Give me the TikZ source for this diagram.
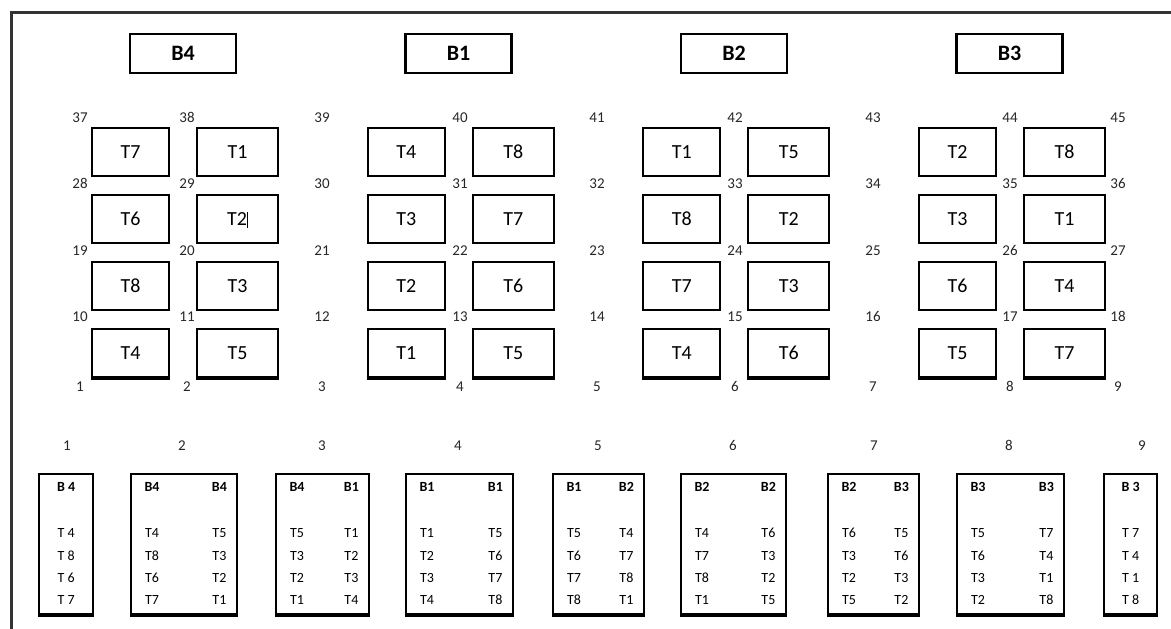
\documentclass[tikz,border=0pt]{standalone}
\usepackage{fontspec}
\setmainfont{Carlito}
\newcommand\tcursor{\rule[-2pt]{0.8pt}{16pt}}
\begin{document}
\begin{tikzpicture}[x=1pt,y=-1pt,
  frame/.style={line width=3pt, draw=black!80},
  hbox/.style={draw, line width=2.2pt, minimum width=106pt, minimum height=39pt, inner sep=0pt, text height=14pt, text depth=0pt, font=\fontsize{22}{22}\selectfont\bfseries},
  tbox/.style={draw, line width=2pt, minimum height=48pt, inner sep=0pt, anchor=north west, text height=13pt, text depth=0pt, font=\fontsize{20}{20}\selectfont},
  num/.style={font=\fontsize{15}{15}\selectfont, text=black!85, inner sep=0pt, text height=10pt, text depth=0pt},
  bbox/.style={draw, line width=2.4pt, minimum height=140pt, anchor=north west, inner sep=0pt},
  btxt/.style={font=\fontsize{14}{14}\selectfont\bfseries, inner sep=0pt, text height=9pt, text depth=0pt},
  ttxt/.style={font=\fontsize{14}{14}\selectfont, inner sep=0pt, text height=9pt, text depth=0pt},
  thick bottom/.style={line width=3.4pt}]
\useasboundingbox (0,0) rectangle (1171,629);
\draw[frame] (11,629) -- (11,12) -- (1171,12);
% header boxes
\foreach \n [count=\k from 0] in {B4,B1,B2,B3}
  \node[hbox] (h\n) at (183+275.5*\k, 53.5) {\n};
% top table boxes
\foreach \k/\r/\c/\t in {
  0/0/0/T7, 0/0/1/T1, 0/1/0/T6, 0/1/1/T2\tcursor, 0/2/0/T8, 0/2/1/T3, 0/3/0/T4, 0/3/1/T5,
  1/0/0/T4, 1/0/1/T8, 1/1/0/T3, 1/1/1/T7, 1/2/0/T2, 1/2/1/T6, 1/3/0/T1, 1/3/1/T5,
  2/0/0/T1, 2/0/1/T5, 2/1/0/T8, 2/1/1/T2, 2/2/0/T7, 2/2/1/T3, 2/3/0/T4, 2/3/1/T6,
  3/0/0/T2, 3/0/1/T8, 3/1/0/T3, 3/1/1/T1, 3/2/0/T6, 3/2/1/T4, 3/3/0/T5, 3/3/1/T7}
{
  \pgfmathsetmacro\bw{77+4*\c}
  \node[tbox, minimum width=\bw pt] (t\k\r\c) at (91+275.7*\k+105*\c, 127+67*\r) {\t};
}
\foreach \k in {0,1,2,3}
  \foreach \c in {0,1}
    \draw[thick bottom] (t\k3\c.south west) -- (t\k3\c.south east);
% seat numbers
\foreach \row/\y in {0/117,1/183,2/250,3/316,4/386}
  \foreach \col/\x in {0/80,1/187,2/322,3/460,4/597,5/735,6/873,7/1010,8/1118}
  {
    \pgfmathtruncatemacro\num{(4-\row)*9+\col+1}
    \node[num] (n\num) at (\x,\y) {\num};
  }
% bottom labels
\foreach \i/\x in {1/67,2/182,3/322,4/458,5/598,6/733,7/874,8/1009,9/1142}
  \node[num] (bl\i) at (\x,445) {\i};
% bottom boxes
\foreach \i/\L/\R in {1/38/92,2/130/236,3/275/368,4/405/512,5/552/643,6/680/785,7/827/918,8/956/1063,9/1103/1156}
{
  \pgfmathsetmacro\bw{\R-\L}
  \node[bbox, minimum width=\bw pt] (bb\i) at (\L,473) {};
  \draw[thick bottom] (bb\i.south west) -- (bb\i.south east);
}
% single-column boxes
\foreach \i/\bx/\ua/\ub/\uc/\ud in {1/B 4/T 4/T 8/T 6/T 7, 9/B 3/T 7/T 4/T 1/T 8}
{
  \node[btxt] (bb\i-h) at ([yshift=-14pt]bb\i.north) {\bx};
  \node[ttxt] (bb\i-a) at ([yshift=-60pt]bb\i.north) {\ua};
  \node[ttxt] (bb\i-b) at ([yshift=-82.5pt]bb\i.north) {\ub};
  \node[ttxt] (bb\i-c) at ([yshift=-105pt]bb\i.north) {\uc};
  \node[ttxt] (bb\i-d) at ([yshift=-127pt]bb\i.north) {\ud};
}
% two-column boxes
\foreach \i/\ha/\hb/\ua/\va/\ub/\vb/\uc/\vc/\ud/\vd in {
  2/B4/B4/T4/T5/T8/T3/T6/T2/T7/T1,
  3/B4/B1/T5/T1/T3/T2/T2/T3/T1/T4,
  4/B1/B1/T1/T5/T2/T6/T3/T7/T4/T8,
  5/B1/B2/T5/T4/T6/T7/T7/T8/T8/T1,
  6/B2/B2/T4/T6/T7/T3/T8/T2/T1/T5,
  7/B2/B3/T6/T5/T3/T6/T2/T3/T5/T2,
  8/B3/B3/T5/T7/T6/T4/T3/T1/T2/T8}
{
  \node[btxt] (bb\i-hl) at ([xshift=22pt,yshift=-14pt]bb\i.north west) {\ha};
  \node[btxt] (bb\i-hr) at ([xshift=-19pt,yshift=-14pt]bb\i.north east) {\hb};
  \node[ttxt] (bb\i-al) at ([xshift=22pt,yshift=-60pt]bb\i.north west) {\ua};
  \node[ttxt] (bb\i-ar) at ([xshift=-19pt,yshift=-60pt]bb\i.north east) {\va};
  \node[ttxt] (bb\i-bl) at ([xshift=22pt,yshift=-82.5pt]bb\i.north west) {\ub};
  \node[ttxt] (bb\i-br) at ([xshift=-19pt,yshift=-82.5pt]bb\i.north east) {\vb};
  \node[ttxt] (bb\i-cl) at ([xshift=22pt,yshift=-105pt]bb\i.north west) {\uc};
  \node[ttxt] (bb\i-cr) at ([xshift=-19pt,yshift=-105pt]bb\i.north east) {\vc};
  \node[ttxt] (bb\i-dl) at ([xshift=22pt,yshift=-127pt]bb\i.north west) {\ud};
  \node[ttxt] (bb\i-dr) at ([xshift=-19pt,yshift=-127pt]bb\i.north east) {\vd};
}
\end{tikzpicture}
\end{document}
